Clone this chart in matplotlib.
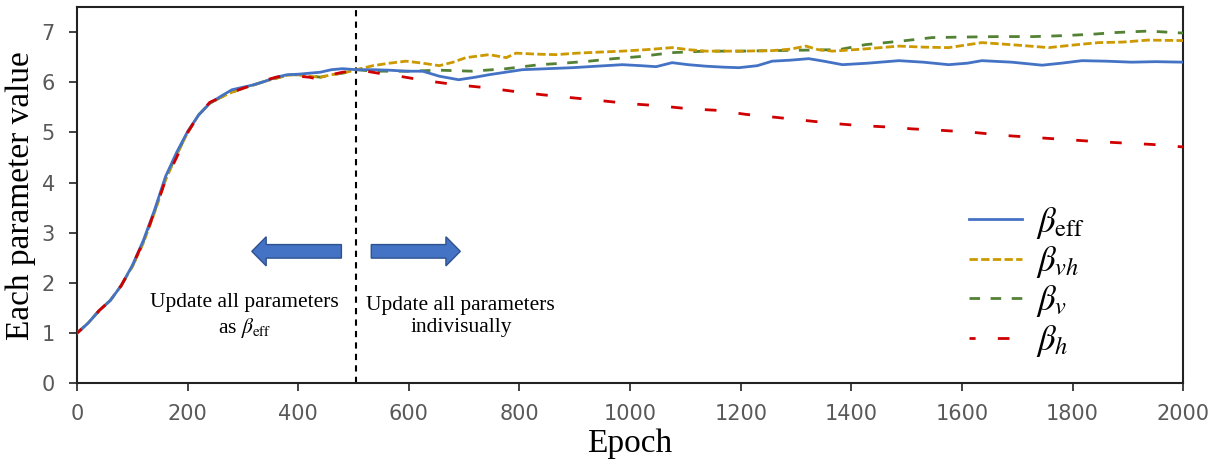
import matplotlib
matplotlib.use("Agg")
from matplotlib import pyplot as plt

plt.rcParams['mathtext.fontset'] = 'stix'
plt.rcParams['font.family'] = ['Liberation Serif', 'DejaVu Serif']

# shared rise before the split (epochs 0 .. 505)
rise_x = [0, 20, 40, 60, 80, 100, 120, 140, 160, 180, 200, 220, 240, 260, 280,
          300, 320, 340, 360, 380, 400, 420, 440, 460, 480, 505]
rise_eff = [1.0, 1.2, 1.45, 1.65, 1.95, 2.35, 2.85, 3.45, 4.12, 4.6, 5.02, 5.35, 5.58,
            5.72, 5.85, 5.9, 5.95, 6.02, 6.1, 6.15, 6.16, 6.18, 6.2, 6.25, 6.27, 6.25]
rise_vh = [1.0, 1.2, 1.45, 1.65, 1.95, 2.33, 2.8, 3.4, 4.05, 4.55, 5.0, 5.35, 5.58,
           5.7, 5.8, 5.88, 5.95, 6.02, 6.08, 6.14, 6.15, 6.12, 6.1, 6.15, 6.18, 6.25]
rise_v = [1.0, 1.2, 1.45, 1.65, 1.95, 2.33, 2.82, 3.42, 4.08, 4.56, 5.0, 5.35, 5.58,
          5.7, 5.8, 5.88, 5.95, 6.02, 6.08, 6.14, 6.15, 6.13, 6.1, 6.15, 6.18, 6.25]
rise_h = [1.0, 1.2, 1.45, 1.65, 1.95, 2.35, 2.82, 3.42, 4.05, 4.5, 5.0, 5.35, 5.6,
          5.7, 5.8, 5.88, 5.95, 6.04, 6.1, 6.14, 6.12, 6.1, 6.05, 6.15, 6.2, 6.22]

# after the split
eff_x = [535, 565, 595, 625, 655, 690, 720, 745, 775, 805, 850, 896, 940, 986, 1020,
         1047, 1076, 1105, 1137, 1170, 1197, 1230, 1257, 1290, 1323, 1350, 1384, 1430,
         1486, 1530, 1576, 1610, 1636, 1690, 1745, 1780, 1817, 1860, 1907, 1950, 2000]
eff_y = [6.25, 6.24, 6.22, 6.22, 6.12, 6.05, 6.1, 6.15, 6.2, 6.25, 6.27, 6.29, 6.32,
         6.35, 6.33, 6.31, 6.39, 6.35, 6.32, 6.3, 6.29, 6.33, 6.42, 6.44, 6.47, 6.42,
         6.35, 6.38, 6.43, 6.4, 6.35, 6.38, 6.43, 6.4, 6.34, 6.38, 6.43, 6.42, 6.4,
         6.41, 6.4]

vh_x = [535, 565, 595, 625, 655, 680, 703, 745, 776, 794, 830, 866, 905, 944, 986,
        1030, 1076, 1105, 1137, 1200, 1257, 1290, 1318, 1340, 1366, 1420, 1486, 1530,
        1576, 1636, 1700, 1757, 1800, 1847, 1890, 1937, 2000]
vh_y = [6.33, 6.38, 6.42, 6.38, 6.33, 6.4, 6.49, 6.55, 6.49, 6.58, 6.56, 6.55, 6.58,
        6.6, 6.62, 6.65, 6.69, 6.65, 6.62, 6.62, 6.63, 6.66, 6.72, 6.65, 6.62, 6.66,
        6.72, 6.7, 6.69, 6.79, 6.74, 6.69, 6.74, 6.79, 6.8, 6.84, 6.83]

v_x = [535, 565, 600, 655, 715, 776, 836, 880, 926, 970, 1016, 1076, 1137, 1200, 1257,
       1320, 1378, 1426, 1490, 1546, 1600, 1667, 1730, 1787, 1840, 1877, 1937, 2000]
v_y = [6.22, 6.22, 6.22, 6.24, 6.22, 6.27, 6.35, 6.38, 6.42, 6.47, 6.51, 6.59, 6.62,
       6.62, 6.63, 6.64, 6.65, 6.75, 6.82, 6.89, 6.9, 6.91, 6.91, 6.93, 6.96, 6.99,
       7.02, 6.98]

h_x = [523, 550, 583, 631, 686, 740, 788, 842, 896, 950, 1002, 1053, 1107, 1158, 1209,
       1264, 1315, 1366, 1411, 1462, 1511, 1565, 1622, 1676, 1730, 1785, 1839, 1890,
       1944, 2000]
h_y = [6.22, 6.17, 6.12, 6.03, 5.95, 5.89, 5.82, 5.75, 5.69, 5.63, 5.57, 5.53, 5.47,
       5.44, 5.36, 5.3, 5.24, 5.18, 5.14, 5.11, 5.07, 5.04, 5.0, 4.94, 4.9, 4.86, 4.82,
       4.79, 4.76, 4.71]

split_epoch = 505
labels = [r'$\beta_{\rm eff}$', r'$\beta_{vh}$', r'$\beta_{v}$', r'$\beta_{h}$']

fig = plt.figure(figsize=(12.21, 4.65), dpi=100)
ax = fig.add_axes([0.0631, 0.1757, 0.9059, 0.8093])

lw = 2.0
ax.plot(rise_x + eff_x, rise_eff + eff_y, color='#4472C4', lw=lw, label=labels[0], zorder=5)
ax.plot(rise_x + vh_x, rise_vh + vh_y, color='#CC9900', lw=lw, dashes=(3.0, 1.2),
        label=labels[1], zorder=4)
ax.plot(rise_x + v_x, rise_v + v_y, color='#548235', lw=lw, dashes=(3.8, 3.8),
        label=labels[2], zorder=3)
ax.plot(rise_x + h_x, rise_h + h_y, color='#D00000', lw=lw, linestyle=(2.0, (4.2, 8.0)),
        label=labels[3], zorder=6)

ax.axvline(split_epoch, color='black', lw=1.5, dashes=(3, 2.5), zorder=2)

# arrows
ax.arrow(478, 2.63, 316 - 478, 0, width=0.27, head_width=0.58, head_length=26,
         length_includes_head=True, fc='#4472C4', ec='#2F528F', lw=1, zorder=7)
ax.arrow(532, 2.63, 693 - 532, 0, width=0.27, head_width=0.58, head_length=26,
         length_includes_head=True, fc='#4472C4', ec='#2F528F', lw=1, zorder=7)

ax.text(303, 1.33, 'Update all parameters\nas $\\beta_{\\rm eff}$', ha='center', va='center',
        fontsize=15.5, linespacing=1.2)
ax.text(694, 1.33, 'Update all parameters\nindivisually', ha='center', va='center',
        fontsize=15.5, linespacing=1.2)

ax.set_xlim(0, 2000)
ax.set_ylim(0, 7.5)
ax.set_xticks(range(0, 2001, 200))
ax.set_yticks(range(0, 8))
ax.tick_params(axis='both', direction='out', length=6, width=1.2, color='#222222',
               labelsize=15, labelcolor='#595959')
ax.tick_params(axis='x', pad=9)
ax.tick_params(axis='y', pad=10)
for lab in ax.get_xticklabels() + ax.get_yticklabels():
    lab.set_family('DejaVu Sans')
for sp in ax.spines.values():
    sp.set_linewidth(1.5)
    sp.set_color('#222222')

ax.set_xlabel('Epoch', fontsize=24, labelpad=3)
ax.set_ylabel('Each parameter value', fontsize=24, labelpad=4)

ax.legend(loc='upper left', bbox_to_anchor=(0.806, 0.475), frameon=False, fontsize=25,
          handlelength=1.55, handletextpad=0.4, labelspacing=0.1,
          borderaxespad=0, borderpad=0)

fig.savefig('out.png', dpi=100)
